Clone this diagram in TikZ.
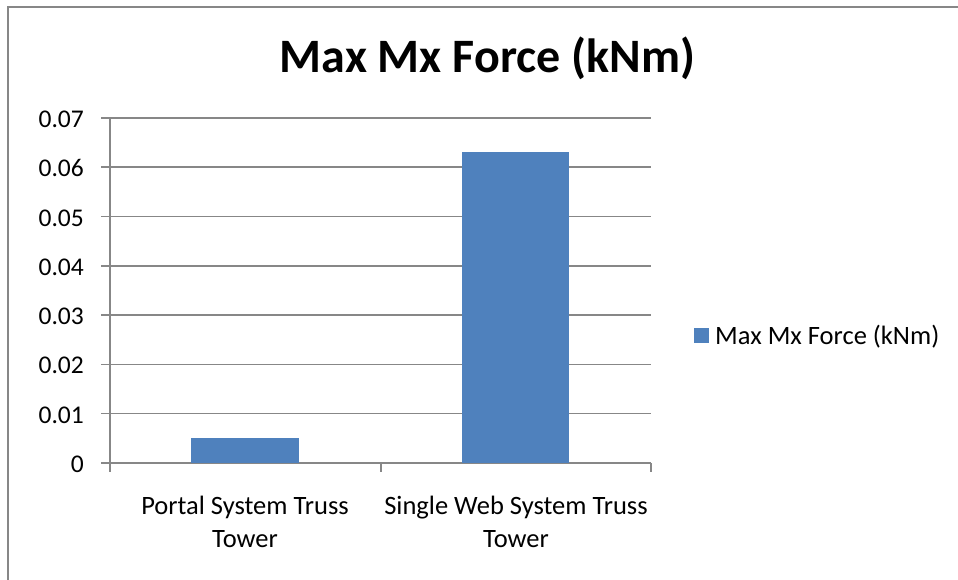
\documentclass[tikz,border=0pt]{standalone}
\usepackage{fontspec}
\setmainfont{Carlito}
\definecolor{gridc}{HTML}{878787}
\definecolor{barc}{HTML}{4F81BD}
\tikzset{
  grid line/.style={draw=gridc,line width=1.5pt},
  bar/.style={fill=barc,draw=none},
  ylab/.style={anchor=base east,font=\fontsize{25.5}{28}\selectfont,inner sep=0pt},
  xlab/.style={anchor=base,align=center,font=\fontsize{26.5}{33}\selectfont,inner sep=0pt},
}
\begin{document}
\begin{tikzpicture}[x=1pt,y=-1pt]
\useasboundingbox (0,0) rectangle (958,579);
\fill[white] (0,0) rectangle (958,579);
% outer frame (top and left visible)
\draw[draw=gridc,line width=2pt] (8,600) -- (8,7) -- (970,7);
% title
\node[font=\bfseries\fontsize{48}{52}\selectfont,anchor=base,inner sep=0pt] (title) at (487.5,72) {Max Mx Force (kNm)};
% gridlines and y ticks
\foreach \v [count=\i from 0] in {0,0.01,0.02,0.03,0.04,0.05,0.06,0.07} {
  \pgfmathsetmacro{\yy}{463-49.3*\i}
  \pgfmathsetmacro{\yb}{\yy+9.5}
  \coordinate (gl\i) at (101,\yy);
  \coordinate (gr\i) at (651,\yy);
  \draw[grid line] (gl\i) -- (gr\i);
  \node[ylab] (yl\i) at (84,\yb) {\v};
}
% axis
\coordinate (ax0) at (110,118);
\coordinate (ax1) at (110,472);
\draw[grid line] (ax0) -- (ax1);
\coordinate (t1a) at (381,463); \coordinate (t1b) at (381,472);
\coordinate (t2a) at (651,463); \coordinate (t2b) at (651,472);
\draw[grid line] (t1a) -- (t1b);
\draw[grid line] (t2a) -- (t2b);
% bars
\path[bar] (191,463) rectangle (299,438.35);
\path[bar] (462,463) rectangle (569,152.4);
% category labels
\node[xlab] (c1) at (245,547) {Portal System Truss\\Tower};
\node[xlab] (c2) at (516,547) {Single Web System Truss\\Tower};
% legend
\path[bar] (694,328) rectangle (709,343) node[coordinate] (lg) {};
\node[anchor=base west,inner sep=0pt,font=\fontsize{26.5}{30}\selectfont] (legtext) at (715,344) {Max Mx Force (kNm)};
\end{tikzpicture}
\end{document}
